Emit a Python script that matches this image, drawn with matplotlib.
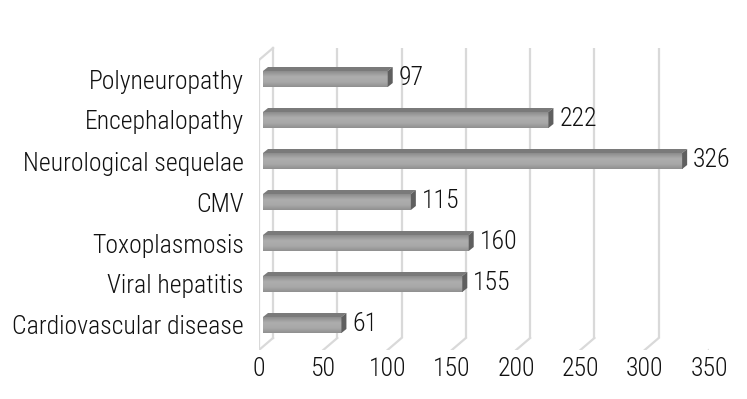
import numpy as np
import matplotlib
matplotlib.use("Agg")
import matplotlib.pyplot as plt
from matplotlib.patches import Polygon
from matplotlib import font_manager

categories = ["Cardiovascular disease", "Viral hepatitis", "Toxoplasmosis", "CMV",
              "Neurological sequelae", "Encephalopathy", "Polyneuropathy"]
values = [61, 155, 160, 115, 326, 222, 97]
xticks = [0, 50, 100, 150, 200, 250, 300, 350]

names = {f.name for f in font_manager.fontManager.ttflist}
fam = "Roboto Condensed" if "Roboto Condensed" in names else "DejaVu Sans"
plt.rcParams["font.family"] = [fam, "DejaVu Sans"]
plt.rcParams["font.weight"] = "light"
FS = 18.5

W, H = 747, 399
fig = plt.figure(figsize=(W / 100, H / 100), dpi=100)
# axes: front plane, 0 at px 259, 350 at px 709; y from px 350 (bottom) to 40 (top)
AX_L, AX_W = 259, 450
ax = fig.add_axes([AX_L / W, (H - 350) / H, AX_W / W, 310 / H])
pxu_x = AX_W / 350.0      # px per value unit
pxu_y = 41.0              # px per category
y0 = -25 / pxu_y

# depth offsets (data units)
dxb = 14 / pxu_x
dyb = 12 / pxu_y
top_back = (325 - 48) / pxu_y

grid_c = "#d9d9d9"
lw = 1.6
for v in xticks[1:]:
    ax.plot([v + dxb, v + dxb], [y0 + dyb, top_back], color=grid_c, lw=lw, zorder=1,
            solid_capstyle="butt")
    ax.plot([v, v + dxb], [y0, y0 + dyb], color=grid_c, lw=lw, zorder=1)
# left wall
ax.plot([dxb, dxb], [y0 + dyb, top_back], color=grid_c, lw=lw, zorder=1)
ax.plot([0, 0], [y0, top_back - dyb], color=grid_c, lw=lw, zorder=1)
ax.plot([0, dxb], [y0, y0 + dyb], color=grid_c, lw=lw, zorder=1)
ax.plot([0, dxb], [top_back - dyb, top_back], color=grid_c, lw=lw, zorder=1)

# bars
bx0 = 4 / pxu_x
bh = 16 / pxu_y
cdx = 5 / pxu_x
cdy = 4 / pxu_y
grad = np.linspace(0, 1, 64).reshape(-1, 1)
cmap = matplotlib.colors.LinearSegmentedColormap.from_list(
    "g", [(0, "#8c8c8c"), (0.35, "#adadad"), (0.7, "#a8a8a8"), (1, "#8f8f8f")])
for i, v in enumerate(values):
    yb, yt = i - bh / 2, i + bh / 2
    x1 = bx0 + v
    ax.imshow(grad, cmap=cmap, aspect="auto", extent=[bx0, x1, yb, yt],
              origin="upper", zorder=3, interpolation="bilinear")
    # top face
    ax.add_patch(Polygon([[bx0, yt], [x1, yt], [x1 + cdx, yt + cdy], [bx0 + cdx, yt + cdy]],
                         closed=True, fc="#7a7a7a", ec="none", zorder=3))
    # end cap
    ax.add_patch(Polygon([[x1, yb], [x1 + cdx, yb + cdy], [x1 + cdx, yt + cdy], [x1, yt]],
                         closed=True, fc="#5f5f5f", ec="none", zorder=3))
    ax.text(x1 + cdx + 6 / pxu_x, i + 0.02, str(v), va="center", ha="left",
            fontsize=FS, color="#111111", zorder=4)

ax.set_xlim(0, 350)
ax.set_ylim(y0, y0 + 310 / pxu_y)

ax.set_yticks(range(len(categories)))
ax.set_yticklabels(categories, fontsize=FS, color="#111111")
ax.set_xticks(xticks)
ax.set_xticklabels([str(t) for t in xticks], fontsize=FS, color="#111111")
ax.tick_params(axis="y", length=0, pad=11)
ax.tick_params(axis="x", length=0, pad=5)
for s in ax.spines.values():
    s.set_visible(False)
ax.set_facecolor("none")

fig.savefig("out.png", dpi=100)
